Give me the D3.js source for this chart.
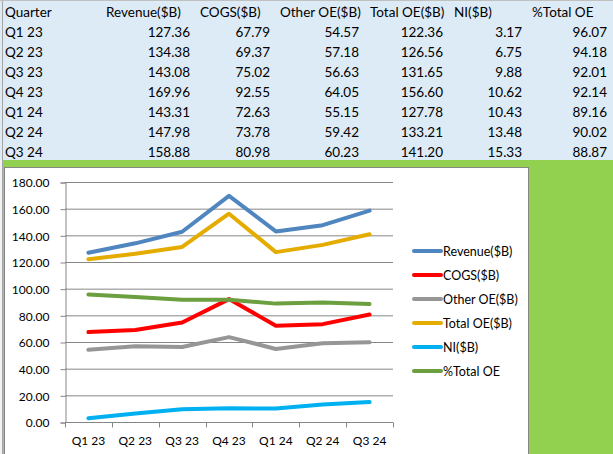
<!DOCTYPE html>
<html><head><meta charset="utf-8">
<script src="https://cdn.jsdelivr.net/npm/d3@7"></script>
<style>
html,body{margin:0;padding:0;background:#fff;overflow:hidden}
svg{display:block}
text{font-family:Lato,"Open Sans",sans-serif;fill:#000}
</style></head>
<body><svg id="c" width="613" height="454"></svg>
<script>
const quarters = ["Q1 23","Q2 23","Q3 23","Q4 23","Q1 24","Q2 24","Q3 24"];
const revenue = [127.36,134.38,143.08,169.96,143.31,147.98,158.88];
const cogs = [67.79,69.37,75.02,92.55,72.63,73.78,80.98];
const otherOE = [54.57,57.18,56.63,64.05,55.15,59.42,60.23];
const totalOE = [122.36,126.56,131.65,156.60,127.78,133.21,141.20];
const ni = [3.17,6.75,9.88,10.62,10.43,13.48,15.33];
const pctTotalOE = [96.07,94.18,92.01,92.14,89.16,90.02,88.87];
const seriesNames = ["Revenue($B)","COGS($B)","Other OE($B)","Total OE($B)","NI($B)","%Total OE"];
const seriesColors = ["#4F86C0","#FF0000","#969696","#E5AC00","#00B0F0","#6B9F3F"];
const yTicks = [0,20,40,60,80,100,120,140,160,180];
const tableHeaders = ["Quarter","Revenue($B)","COGS($B)","Other OE($B)","Total OE($B)","NI($B)","%Total OE"];

const seriesData = [revenue,cogs,otherOE,totalOE,ni,pctTotalOE];
const svg = d3.select("#c");

// spreadsheet background
svg.append("rect").attr("x",0).attr("y",0).attr("width",613).attr("height",160).attr("fill","#DDEBF7");
svg.append("rect").attr("x",0).attr("y",160).attr("width",613).attr("height",294).attr("fill","#92D050");
svg.append("rect").attr("x",0).attr("y",160).attr("width",2).attr("height",294).attr("fill","#F2F2F2");
svg.append("line").attr("x1",2.5).attr("x2",2.5).attr("y1",0).attr("y2",454).attr("stroke","#A6A6A6");
svg.append("line").attr("x1",0).attr("x2",613).attr("y1",0.5).attr("y2",0.5).attr("stroke","#C0C0C0");

// table
const headerX = [5,106,200,280,370,454,532];
const valueRight = [190,270,359,443,522,607];
const tg = svg.append("g").style("font-size","13.5px");
tableHeaders.forEach((h,i)=>{
  tg.append("text").attr("x",headerX[i]).attr("y",16.5).text(h);
});
quarters.forEach((q,r)=>{
  const by = 36.5 + r*20;
  tg.append("text").attr("x",5).attr("y",by).text(q);
  seriesData.forEach((s,c)=>{
    tg.append("text").attr("x",valueRight[c]).attr("y",by).attr("text-anchor","end").text(s[r].toFixed(2));
  });
});

// chart area
svg.append("rect").attr("x",4.5).attr("y",167.5).attr("width",524).attr("height",300)
  .attr("fill","#fff").attr("stroke","#868686");

const x = d3.scaleBand().domain(quarters).range([65,393]);
const y = d3.scaleLinear().domain([0,180]).range([422.5,182.5]);

// gridlines
svg.append("g").selectAll("line").data(yTicks.filter(d=>d>0)).join("line")
  .attr("x1",65).attr("x2",393).attr("y1",d=>y(d)).attr("y2",d=>y(d))
  .attr("stroke","#868686").attr("stroke-width",1);

// y axis
const yAxis = svg.append("g").attr("transform","translate(65.5,0)")
  .call(d3.axisLeft(y).tickValues(yTicks).tickFormat(d3.format(".2f")).tickSize(5).tickPadding(11));
yAxis.select(".domain").attr("stroke","#868686");
yAxis.selectAll(".tick line").attr("stroke","#868686");
yAxis.selectAll("text").style("font-size","12px").style("font-family","Lato").attr("fill","#000").attr("dy","0.35em");

// x axis
const xAxis = svg.append("g").attr("transform","translate(0,422.5)")
  .call(d3.axisBottom(x).tickSize(0).tickPadding(14));
xAxis.select(".domain").attr("stroke","#868686").attr("d","M65,0H393");
xAxis.selectAll("text").style("font-size","12px").style("font-family","Lato").attr("fill","#000");
const bounds = quarters.map(q=>x(q)).concat([x.range()[1]]);
xAxis.append("g").selectAll("line").data(bounds).join("line")
  .attr("x1",d=>Math.round(d)+0.5).attr("x2",d=>Math.round(d)+0.5).attr("y1",0).attr("y2",5)
  .attr("stroke","#868686");

// series lines
const line = d3.line().x((d,i)=>x(quarters[i])+x.bandwidth()/2).y(d=>y(d));
seriesData.forEach((s,i)=>{
  svg.append("path").datum(s).attr("d",line).attr("fill","none")
    .attr("stroke",seriesColors[i]).attr("stroke-width",4)
    .attr("stroke-linejoin","round").attr("stroke-linecap","round");
});

// legend
const lg = svg.append("g");
seriesNames.forEach((n,i)=>{
  const cy = 251 + i*24;
  lg.append("line").attr("x1",414).attr("x2",441).attr("y1",cy).attr("y2",cy)
    .attr("stroke",seriesColors[i]).attr("stroke-width",4).attr("stroke-linecap","round");
  lg.append("text").attr("x",443).attr("y",cy+4.5).style("font-size","12.5px").text(n);
});
</script></body></html>
